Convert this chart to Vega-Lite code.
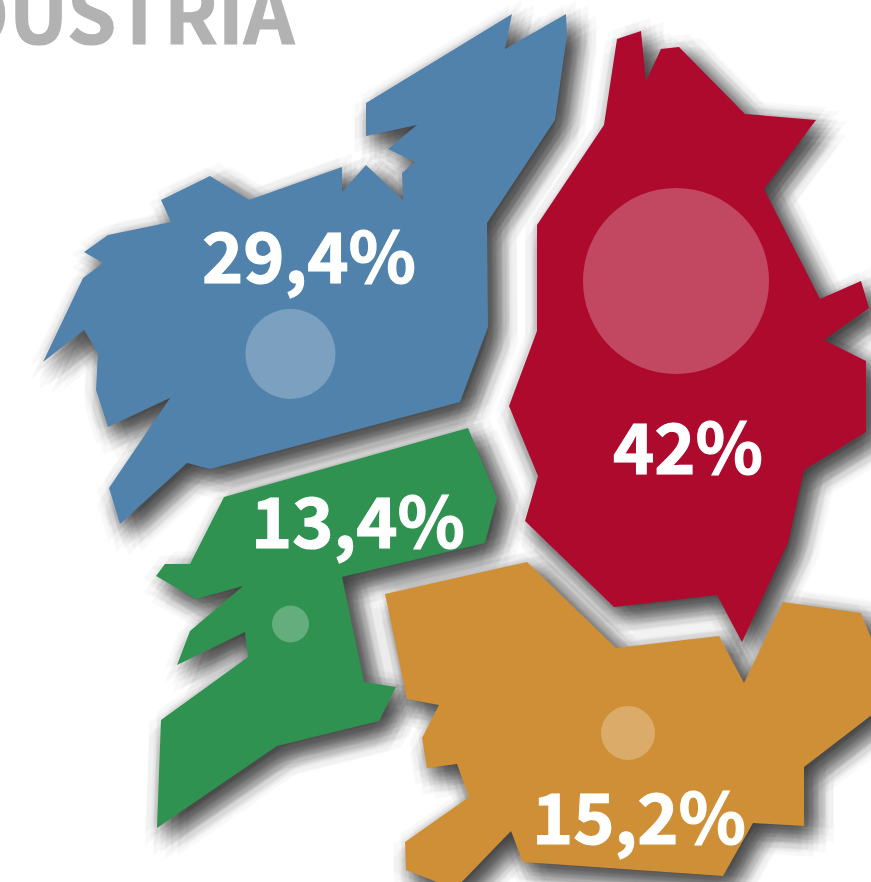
{"$schema":"https://vega.github.io/schema/vega-lite/v6.json","width":871,"height":882,"padding":0,"autosize":{"type":"none"},"background":"#ffffff","view":{"stroke":null},
"datasets":{
"shapes":[
{"type":"Feature","properties":{"name":"Ourense"},"geometry":{"type":"Polygon","coordinates":[[[385,594],[527,562],[616,648],[719,636],[744,683],[783,602],[861,613],[882,665],[882,707],[804,767],[804,826],[753,823],[723,876],[523,862],[511,831],[455,889],[406,870],[405,842],[469,797],[457,764],[427,768],[422,738],[439,705],[407,699],[385,594]]]}},
{"type":"Feature","properties":{"name":"A Coruña"},"geometry":{"type":"Polygon","coordinates":[[[366,103],[512,14],[505,49],[566,14],[567,35],[555,120],[487,223],[488,327],[460,402],[210,469],[187,463],[120,524],[109,488],[170,398],[108,427],[96,390],[98,353],[84,330],[43,362],[83,278],[103,263],[84,252],[108,235],[171,222],[161,200],[210,176],[249,200],[342,167],[342,192],[366,165],[403,200],[402,173],[415,162],[388,149],[417,125],[366,136],[366,103]]]}},
{"type":"Feature","properties":{"name":"Lugo"},"geometry":{"type":"Polygon","coordinates":[[[617,39],[641,31],[646,81],[661,49],[679,47],[745,114],[816,120],[764,189],[820,299],[861,281],[869,308],[824,340],[866,361],[866,432],[804,470],[788,543],[742,642],[717,595],[614,607],[525,521],[538,476],[509,406],[537,331],[537,225],[604,125],[617,39]]]}},
{"type":"Feature","properties":{"name":"Pontevedra"},"geometry":{"type":"Polygon","coordinates":[[[468,428],[497,498],[485,543],[342,577],[364,682],[396,687],[379,721],[277,746],[157,828],[161,720],[248,657],[245,632],[177,665],[190,631],[243,586],[196,599],[156,576],[165,564],[190,564],[224,497],[468,428]]]}}
],
"values":[
{"name":"A Coruña","share":29.4,"label":"29,4%","lx":309,"ly":283,"cx":290.5,"cy":354},
{"name":"Lugo","share":42,"label":"42%","lx":688,"ly":474,"cx":676,"cy":281},
{"name":"Pontevedra","share":13.4,"label":"13,4%","lx":358,"ly":548,"cx":290.5,"cy":624},
{"name":"Ourense","share":15.2,"label":"15,2%","lx":639,"ly":844,"cx":628,"cy":733}
]},
"data":{"name":"shapes"},
"layer":[
{"mark":{"type":"geoshape","fill":"#000","stroke":"#000","strokeWidth":2,"strokeOpacity":0.5,"opacity":0.03},"projection":{"type":"identity","tilt":1,"scale":1,"translate":[9,9]}},
{"mark":{"type":"geoshape","fill":"#000","stroke":"#000","strokeWidth":2,"strokeOpacity":0.5,"opacity":0.032},"projection":{"type":"identity","tilt":2,"scale":1,"translate":[14,9]}},
{"mark":{"type":"geoshape","fill":"#000","stroke":"#000","strokeWidth":2,"strokeOpacity":0.5,"opacity":0.032},"projection":{"type":"identity","tilt":3,"scale":1,"translate":[11.5,13.33]}},
{"mark":{"type":"geoshape","fill":"#000","stroke":"#000","strokeWidth":2,"strokeOpacity":0.5,"opacity":0.032},"projection":{"type":"identity","tilt":4,"scale":1,"translate":[6.5,13.33]}},
{"mark":{"type":"geoshape","fill":"#000","stroke":"#000","strokeWidth":2,"strokeOpacity":0.5,"opacity":0.032},"projection":{"type":"identity","tilt":5,"scale":1,"translate":[4,9]}},
{"mark":{"type":"geoshape","fill":"#000","stroke":"#000","strokeWidth":2,"strokeOpacity":0.5,"opacity":0.032},"projection":{"type":"identity","tilt":6,"scale":1,"translate":[6.5,4.67]}},
{"mark":{"type":"geoshape","fill":"#000","stroke":"#000","strokeWidth":2,"strokeOpacity":0.5,"opacity":0.032},"projection":{"type":"identity","tilt":7,"scale":1,"translate":[11.5,4.67]}},
{"mark":{"type":"geoshape","fill":"#000","stroke":"#000","strokeWidth":2,"strokeOpacity":0.5,"opacity":0.03},"projection":{"type":"identity","tilt":8,"scale":1,"translate":[18.51,12.09]}},
{"mark":{"type":"geoshape","fill":"#000","stroke":"#000","strokeWidth":2,"strokeOpacity":0.5,"opacity":0.03},"projection":{"type":"identity","tilt":9,"scale":1,"translate":[14.88,17.09]}},
{"mark":{"type":"geoshape","fill":"#000","stroke":"#000","strokeWidth":2,"strokeOpacity":0.5,"opacity":0.03},"projection":{"type":"identity","tilt":10,"scale":1,"translate":[9,19]}},
{"mark":{"type":"geoshape","fill":"#000","stroke":"#000","strokeWidth":2,"strokeOpacity":0.5,"opacity":0.03},"projection":{"type":"identity","tilt":11,"scale":1,"translate":[3.12,17.09]}},
{"mark":{"type":"geoshape","fill":"#000","stroke":"#000","strokeWidth":2,"strokeOpacity":0.5,"opacity":0.03},"projection":{"type":"identity","tilt":12,"scale":1,"translate":[-0.51,12.09]}},
{"mark":{"type":"geoshape","fill":"#000","stroke":"#000","strokeWidth":2,"strokeOpacity":0.5,"opacity":0.03},"projection":{"type":"identity","tilt":13,"scale":1,"translate":[-0.51,5.91]}},
{"mark":{"type":"geoshape","fill":"#000","stroke":"#000","strokeWidth":2,"strokeOpacity":0.5,"opacity":0.03},"projection":{"type":"identity","tilt":14,"scale":1,"translate":[3.12,0.91]}},
{"mark":{"type":"geoshape","fill":"#000","stroke":"#000","strokeWidth":2,"strokeOpacity":0.5,"opacity":0.03},"projection":{"type":"identity","tilt":15,"scale":1,"translate":[9,-1]}},
{"mark":{"type":"geoshape","fill":"#000","stroke":"#000","strokeWidth":2,"strokeOpacity":0.5,"opacity":0.03},"projection":{"type":"identity","tilt":16,"scale":1,"translate":[14.88,0.91]}},
{"mark":{"type":"geoshape","fill":"#000","stroke":"#000","strokeWidth":2,"strokeOpacity":0.5,"opacity":0.03},"projection":{"type":"identity","tilt":17,"scale":1,"translate":[18.51,5.91]}},
{"mark":{"type":"geoshape","fill":"#000","stroke":"#000","strokeWidth":2,"strokeOpacity":0.5,"opacity":0.03},"projection":{"type":"identity","tilt":18,"scale":1,"translate":[24,9]}},
{"mark":{"type":"geoshape","fill":"#000","stroke":"#000","strokeWidth":2,"strokeOpacity":0.5,"opacity":0.03},"projection":{"type":"identity","tilt":19,"scale":1,"translate":[21.14,17.82]}},
{"mark":{"type":"geoshape","fill":"#000","stroke":"#000","strokeWidth":2,"strokeOpacity":0.5,"opacity":0.03},"projection":{"type":"identity","tilt":20,"scale":1,"translate":[13.64,23.27]}},
{"mark":{"type":"geoshape","fill":"#000","stroke":"#000","strokeWidth":2,"strokeOpacity":0.5,"opacity":0.03},"projection":{"type":"identity","tilt":21,"scale":1,"translate":[4.36,23.27]}},
{"mark":{"type":"geoshape","fill":"#000","stroke":"#000","strokeWidth":2,"strokeOpacity":0.5,"opacity":0.03},"projection":{"type":"identity","tilt":22,"scale":1,"translate":[-3.14,17.82]}},
{"mark":{"type":"geoshape","fill":"#000","stroke":"#000","strokeWidth":2,"strokeOpacity":0.5,"opacity":0.03},"projection":{"type":"identity","tilt":23,"scale":1,"translate":[-6,9]}},
{"mark":{"type":"geoshape","fill":"#000","stroke":"#000","strokeWidth":2,"strokeOpacity":0.5,"opacity":0.03},"projection":{"type":"identity","tilt":24,"scale":1,"translate":[-3.14,0.18]}},
{"mark":{"type":"geoshape","fill":"#000","stroke":"#000","strokeWidth":2,"strokeOpacity":0.5,"opacity":0.03},"projection":{"type":"identity","tilt":25,"scale":1,"translate":[4.36,-5.27]}},
{"mark":{"type":"geoshape","fill":"#000","stroke":"#000","strokeWidth":2,"strokeOpacity":0.5,"opacity":0.03},"projection":{"type":"identity","tilt":26,"scale":1,"translate":[13.64,-5.27]}},
{"mark":{"type":"geoshape","fill":"#000","stroke":"#000","strokeWidth":2,"strokeOpacity":0.5,"opacity":0.03},"projection":{"type":"identity","tilt":27,"scale":1,"translate":[21.14,0.18]}},
{"mark":{"type":"geoshape","fill":"#000","stroke":"#000","strokeWidth":2,"strokeOpacity":0.5,"opacity":0.022},"projection":{"type":"identity","tilt":28,"scale":1,"translate":[28.97,15.49]}},
{"mark":{"type":"geoshape","fill":"#000","stroke":"#000","strokeWidth":2,"strokeOpacity":0.5,"opacity":0.022},"projection":{"type":"identity","tilt":29,"scale":1,"translate":[21.34,25.99]}},
{"mark":{"type":"geoshape","fill":"#000","stroke":"#000","strokeWidth":2,"strokeOpacity":0.5,"opacity":0.022},"projection":{"type":"identity","tilt":30,"scale":1,"translate":[9,30]}},
{"mark":{"type":"geoshape","fill":"#000","stroke":"#000","strokeWidth":2,"strokeOpacity":0.5,"opacity":0.022},"projection":{"type":"identity","tilt":31,"scale":1,"translate":[-3.34,25.99]}},
{"mark":{"type":"geoshape","fill":"#000","stroke":"#000","strokeWidth":2,"strokeOpacity":0.5,"opacity":0.022},"projection":{"type":"identity","tilt":32,"scale":1,"translate":[-10.97,15.49]}},
{"mark":{"type":"geoshape","fill":"#000","stroke":"#000","strokeWidth":2,"strokeOpacity":0.5,"opacity":0.022},"projection":{"type":"identity","tilt":33,"scale":1,"translate":[-10.97,2.51]}},
{"mark":{"type":"geoshape","fill":"#000","stroke":"#000","strokeWidth":2,"strokeOpacity":0.5,"opacity":0.022},"projection":{"type":"identity","tilt":34,"scale":1,"translate":[-3.34,-7.99]}},
{"mark":{"type":"geoshape","fill":"#000","stroke":"#000","strokeWidth":2,"strokeOpacity":0.5,"opacity":0.022},"projection":{"type":"identity","tilt":35,"scale":1,"translate":[9,-12]}},
{"mark":{"type":"geoshape","fill":"#000","stroke":"#000","strokeWidth":2,"strokeOpacity":0.5,"opacity":0.022},"projection":{"type":"identity","tilt":36,"scale":1,"translate":[21.34,-7.99]}},
{"mark":{"type":"geoshape","fill":"#000","stroke":"#000","strokeWidth":2,"strokeOpacity":0.5,"opacity":0.022},"projection":{"type":"identity","tilt":37,"scale":1,"translate":[28.97,2.51]}},
{"mark":{"type":"geoshape","filled":true,"strokeWidth":0},"projection":{"type":"identity","tilt":38,"scale":1,"translate":[0,0]},"encoding":{"color":{"field":"properties.name","type":"nominal","legend":null,"scale":{"domain":["A Coruña","Lugo","Pontevedra","Ourense"],"range":["#5182ab","#ae0a2d","#309250","#cf8f37"]}}}},
{"data":{"name":"values"},"mark":{"type":"circle","fill":"#ffffff","fillOpacity":0.25,"opacity":1,"stroke":null},"projection":{"type":"identity","tilt":39,"scale":1,"translate":[0,0]},"encoding":{"longitude":{"field":"cx","type":"quantitative"},"latitude":{"field":"cy","type":"quantitative"},"size":{"field":"share","type":"quantitative","legend":null,"scale":{"domain":[13.4,15.2,29.4,42],"range":[1369,2916,8100,34596]}}}},
{"data":{"name":"values"},"mark":{"type":"text","font":"Noto Sans CJK JP","fontWeight":"bold","fontSize":70,"fill":"#ffffff","stroke":"#ffffff","strokeWidth":1.2,"align":"center","baseline":"alphabetic"},"projection":{"type":"identity","tilt":40,"scale":1,"translate":[0,0]},"encoding":{"longitude":{"field":"lx","type":"quantitative"},"latitude":{"field":"ly","type":"quantitative"},"text":{"field":"label","type":"nominal"}}},
{"data":{"values":[{"t":"INDUSTRIA","lon":294.5,"lat":44}]},"mark":{"type":"text","font":"Noto Sans CJK JP","fontWeight":"bold","fontSize":79,"fill":"#b2b2b2","stroke":"#b2b2b2","strokeWidth":1.2,"align":"right","baseline":"alphabetic"},"projection":{"type":"identity","tilt":41,"scale":1,"translate":[0,0]},"encoding":{"longitude":{"field":"lon","type":"quantitative"},"latitude":{"field":"lat","type":"quantitative"},"text":{"field":"t","type":"nominal"}}}
]}
